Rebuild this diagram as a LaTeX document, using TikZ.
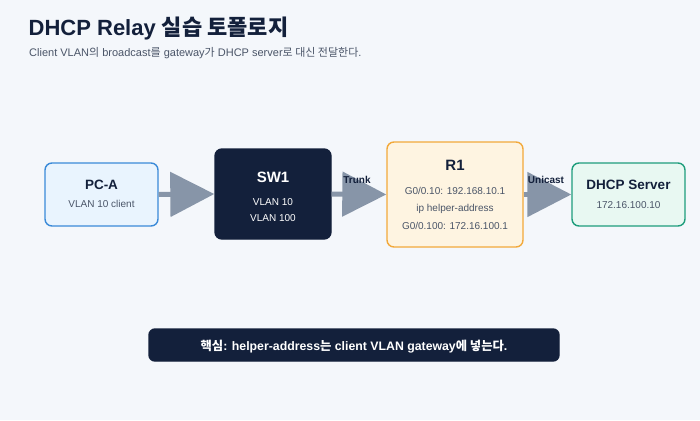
\documentclass[tikz,border=0pt]{standalone}
\usepackage{fontspec}
\setmainfont{Liberation Sans}
\newfontfamily\krfont{Noto Sans CJK KR}
\newcommand\kr[1]{{\krfont #1}}
\usetikzlibrary{arrows.meta}
\definecolor{bg}{HTML}{F4F7FB}
\definecolor{navy}{HTML}{13203B}
\definecolor{subgray}{HTML}{4A5568}
\definecolor{arrowgray}{HTML}{8795A8}
\definecolor{pcfill}{HTML}{E9F4FE}
\definecolor{pcdraw}{HTML}{3A8AD8}
\definecolor{rfill}{HTML}{FEF4E1}
\definecolor{rdraw}{HTML}{F2A93B}
\definecolor{sfill}{HTML}{E8F8F2}
\definecolor{sdraw}{HTML}{1E9D7C}
\newcommand\fs[1]{\fontsize{#1}{#1}\selectfont}
\tikzset{
  box/.style={rounded corners=7pt, line width=1.4pt, inner sep=0pt},
  txt/.style={anchor=base, inner sep=0pt, text=subgray},
  conn/.style={draw=arrowgray, line width=5pt, -{Triangle[length=44pt,width=44pt]}},
  clabel/.style={anchor=base, inner sep=0pt, text=navy, font=\bfseries\fs{10}}
}
\begin{document}
\begin{tikzpicture}[x=1pt,y=-1pt]
\fill[bg] (0,0) rectangle (700,420);
\useasboundingbox (0,0) rectangle (700,420);
% title
\node[anchor=base west, inner sep=0pt, text=navy, font=\bfseries\fs{22}] (title) at (28.5,35.5) {DHCP Relay \kr{실습 토폴로지}};
\node[anchor=base west, inner sep=0pt, text=subgray, font=\fs{11}] (subtitle) at (29,56.7) {Client VLAN\kr{의} broadcast\kr{를} gateway\kr{가} DHCP server\kr{로 대신 전달한다}.};
% boxes
\node[box, draw=pcdraw, fill=pcfill, minimum width=113pt, minimum height=63pt] (pca) at (101.5,194.5) {};
\node[box, draw=navy, fill=navy, minimum width=116pt, minimum height=90pt] (sw1) at (273,194) {};
\node[box, draw=rdraw, fill=rfill, minimum width=136pt, minimum height=105pt] (r1) at (455,194.5) {};
\node[box, draw=sdraw, fill=sfill, minimum width=113pt, minimum height=63pt] (srv) at (628.5,194.5) {};
% connectors
\draw[conn] (pca.east) -- (sw1.west);
\draw[conn] (sw1.east) -- (r1.west);
\draw[conn] (r1.east) -- (srv.west);
\node[clabel] (trunk) at (357,183.3) {Trunk};
\node[clabel] (unicast) at (546,183.3) {Unicast};
% texts
\node[txt, text=navy, font=\bfseries\fs{13.5}] (pcat) at (101.5,189.3) {PC-A};
\node[txt, font=\fs{10}] (pcas) at (101.5,207.7) {VLAN 10 client};
\node[txt, text=white, font=\bfseries\fs{15}] (swt) at (273,182.3) {SW1};
\node[txt, text=white, font=\fs{10}] (sw1a) at (273,205.7) {VLAN 10};
\node[txt, text=white, font=\fs{10}] (sw1b) at (273,221.7) {VLAN 100};
\node[txt, text=navy, font=\bfseries\fs{15}] (r1t) at (455,170.7) {R1};
\node[txt, font=\fs{10}] (r1a) at (455,194.3) {G0/0.10: 192.168.10.1};
\node[txt, font=\fs{10}] (r1b) at (455,211) {ip helper-address};
\node[txt, font=\fs{10}] (r1c) at (455,229) {G0/0.100: 172.16.100.1};
\node[txt, text=navy, font=\bfseries\fs{13.5}] (srvt) at (628.5,189) {DHCP Server};
\node[txt, font=\fs{10}] (srvs) at (628.5,208.3) {172.16.100.10};
% key box
\node[box, rounded corners=6pt, draw=navy, fill=navy, minimum width=410pt, minimum height=32pt] (key) at (354,345) {};
\node[txt, text=white, font=\bfseries\fs{12.3}] (keyt) at (354,350.3) {\kr{핵심}: helper-address\kr{는} client VLAN gateway\kr{에 넣는다}.};
\end{tikzpicture}
\end{document}
